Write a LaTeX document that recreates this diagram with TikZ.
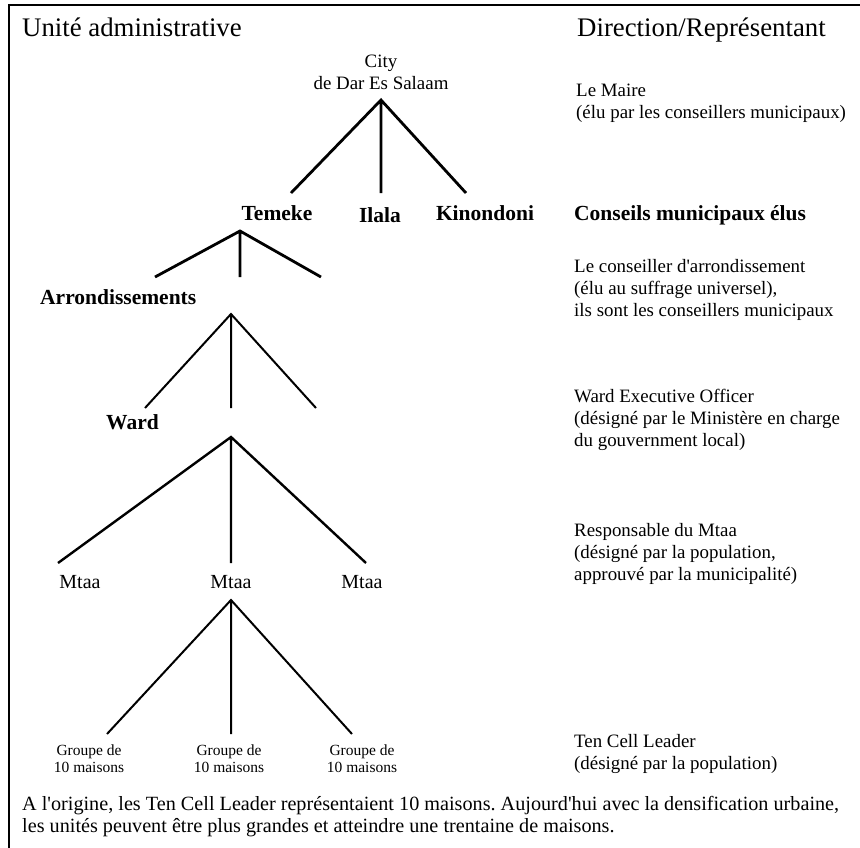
\documentclass[tikz,border=0pt]{standalone}
\usepackage{fontspec}
\setmainfont{Liberation Serif}

\begin{document}
\begin{tikzpicture}[x=1pt,y=-1pt,
    title/.style={font=\fontsize{26.8}{30}\selectfont,inner sep=0pt,anchor=base west},
    unit/.style={font=\fontsize{21.5}{24}\selectfont\bfseries,inner sep=0pt,anchor=base},
    place/.style={font=\fontsize{20}{23}\selectfont,inner sep=0pt,anchor=base},
    house/.style={font=\fontsize{15.5}{17}\selectfont,inner sep=0pt,anchor=base,align=center},
    info/.style={font=\fontsize{18.9}{22}\selectfont\frenchspacing,inner sep=0pt,anchor=base west,align=left}]

    \useasboundingbox (0,0) rectangle (860,847);
    \draw[line width=2pt] (9,850)--(9,5)--(862,5);

    % column heads
    \node[title] (unite) at (22,36) {Unité administrative};
    \node[title] (direction) at (577,36) {Direction/Représentant};

    % units, top to bottom (multi-line nodes sit on their last line)
    \node[info,anchor=base,align=center] (city) at (381,89) {City\\de Dar Es Salaam};
    \node[unit] (temeke) at (277,220) {Temeke};
    \node[unit] (ilala) at (380,222) {Ilala};
    \node[unit] (kinondoni) at (485,220) {Kinondoni};
    \node[unit,anchor=base west] (arr) at (40,304) {Arrondissements};
    \node[unit,anchor=base west] (ward) at (106,429) {Ward};
    \foreach \n/\x in {1/80,2/231,3/362}
        \node[place] (mtaa\n) at (\x,588) {Mtaa};
    \foreach \n/\x in {1/89,2/229,3/362}
        \node[house] (groupe\n) at (\x,772) {Groupe de\\10 maisons};

    % fans: name/apex x/apex y/left x/right x/foot y/width
    \foreach \f/\ax/\ay/\lx/\rx/\fy/\w in {city/381/100/291/466/193/2.8,
        temeke/240/231/155/321/277/2.8, arr/231/314/145/316/408/2,
        ward/231/437/58/366/563/2.4, mtaa/231/600/107/352/734/2}
    {
        \coordinate (\f top) at (\ax,\ay);
        \coordinate (\f l) at (\lx,\fy);
        \coordinate (\f m) at (\ax,\fy);
        \coordinate (\f r) at (\rx,\fy);
        \draw[line width=\w pt] (\f l)--(\f top)--(\f r) (\f top)--(\f m);
    }

    % representatives
    \node[info] (maire) at (576,118) {Le Maire\\(élu par les conseillers municipaux)};
    \node[unit,anchor=base west] (conseils) at (574,220) {Conseils municipaux élus};
    \node[info] (conseiller) at (574,316) {Le conseiller d\textquotesingle arrondissement\\(élu au suffrage universel),\\ils sont les conseillers municipaux};
    \node[info] (officer) at (574,446) {Ward Executive Officer\\(désigné par le Ministère en charge\\du gouvernment local)};
    \node[info] (responsable) at (574,580) {Responsable du Mtaa\\(désigné par la population,\\approuvé par la municipalité)};
    \node[info] (leader) at (574,769) {Ten Cell Leader\\(désigné par la population)};

    % note
    \node[info,font=\fontsize{20.2}{22}\selectfont\frenchspacing] (note) at (22,832) {A l\textquotesingle origine, les Ten Cell Leader représentaient 10 maisons. Aujourd\textquotesingle hui avec la densification urbaine,\\les unités peuvent être plus grandes et atteindre une trentaine de maisons.};
\end{tikzpicture}
\end{document}
